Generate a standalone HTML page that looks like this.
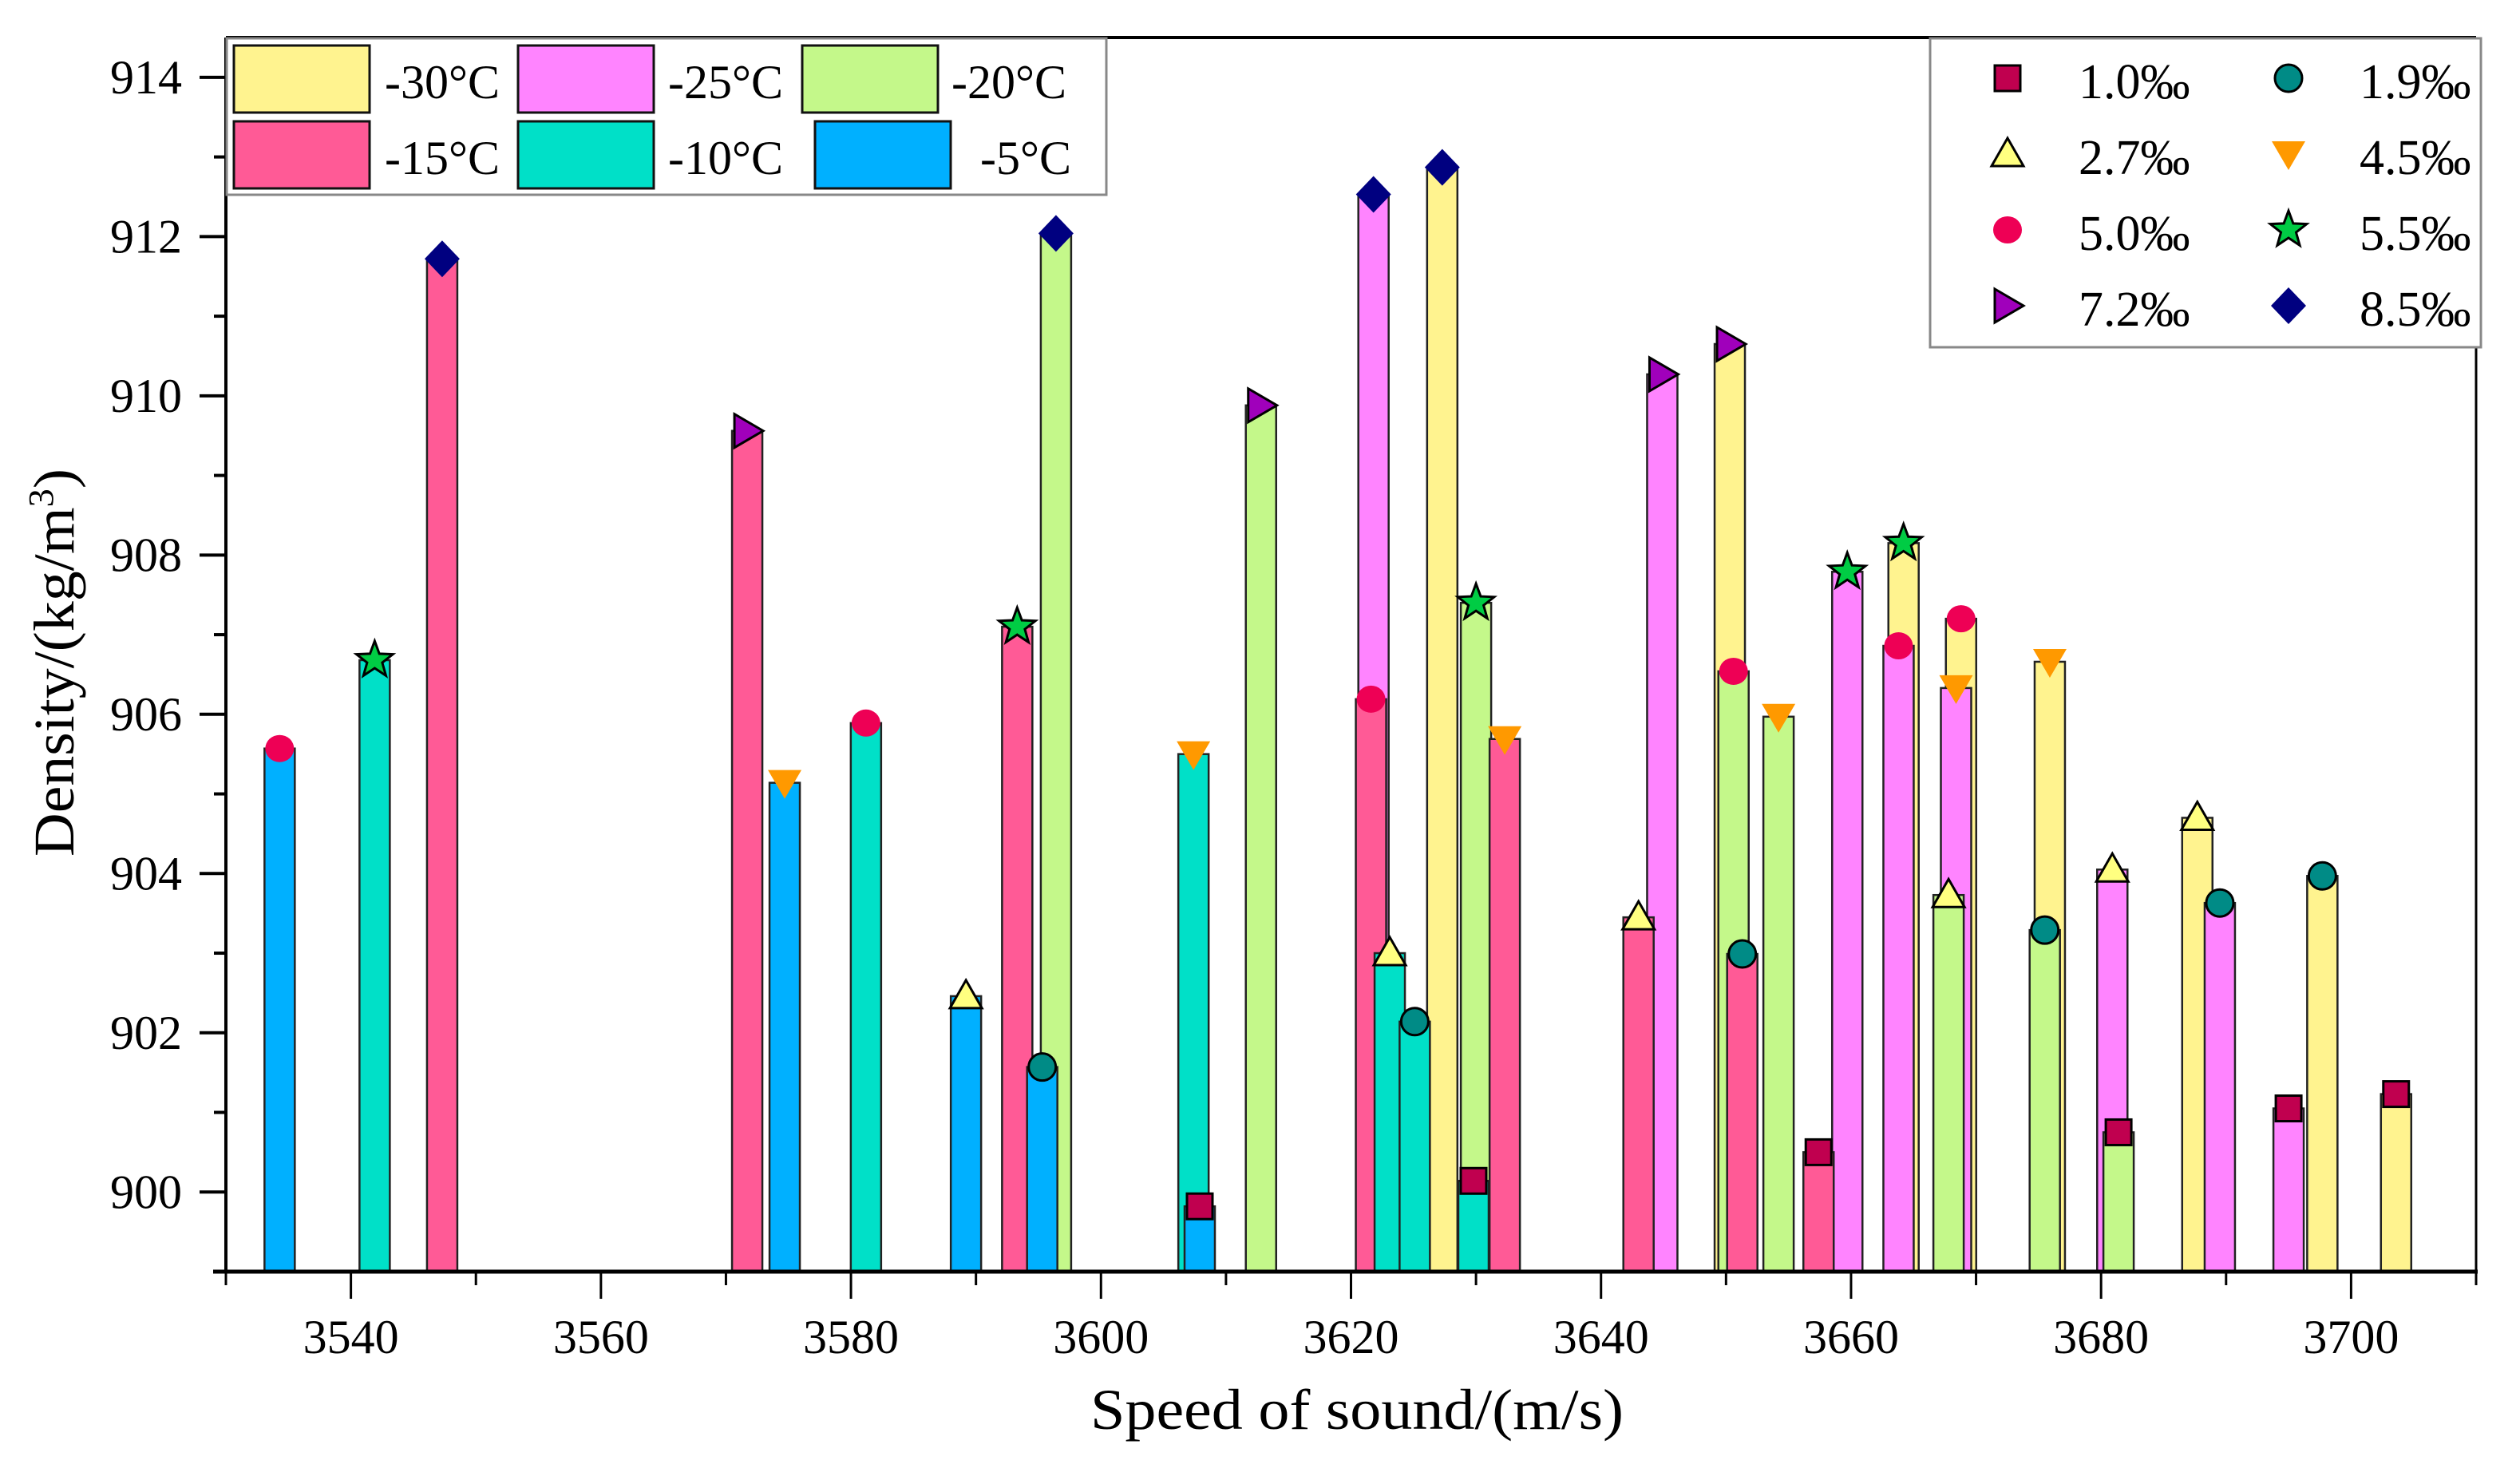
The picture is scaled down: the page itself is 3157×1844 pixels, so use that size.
<!DOCTYPE html>
<html><head><meta charset="utf-8"><title>Density vs speed of sound</title>
<style>
html,body{margin:0;padding:0;background:#fff;}
svg{display:block;font-family:"Liberation Serif",serif;}
</style></head>
<body>
<svg id="chart" width="3157" height="1844" viewBox="0 0 3157 1844" xmlns="http://www.w3.org/2000/svg">
  <rect x="0" y="0" width="3157" height="1844" fill="#fff"/>
  <g id="bars"></g>
  <g id="markers"></g>
  <g id="axes"></g>
  <text x="1700" y="1790" font-size="72" text-anchor="middle" textLength="668" lengthAdjust="spacingAndGlyphs">Speed of sound/(m/s)</text>
  <text transform="translate(92,830) rotate(-90)" font-size="72" text-anchor="middle" textLength="486" lengthAdjust="spacingAndGlyphs">Density/(kg/m<tspan font-size="44" dy="-26">3</tspan><tspan dy="26">)</tspan></text>
  <g id="legend-temp"></g>
  <g id="legend-conc"></g>
</svg>
<script>
// ---- data ----
const speeds = [3534.3,3541.9,3547.3,3571.7,3574.7,3581.2,3589.2,3593.3,3595.3,3596.4,3607.4,3607.9,3612.8,3621.8,3621.6,3623.1,3625.1,3627.3,3629.8,3630.0,3632.3,3643.0,3644.9,3650.3,3650.6,3651.3,3654.2,3657.4,3659.7,3663.8,3664.2,3667.8,3668.4,3668.8,3675.5,3675.9,3680.9,3681.4,3687.7,3689.5,3695.0,3697.7,3703.6];
const densities = [905.57,906.68,911.72,909.56,905.14,905.89,902.46,907.10,901.57,912.04,905.50,899.82,909.88,912.53,906.19,903.00,902.14,912.87,900.14,907.40,905.69,903.45,910.27,910.65,906.54,902.99,905.97,900.50,907.79,906.86,908.15,903.73,906.33,907.20,903.29,906.66,904.05,900.75,904.70,903.63,901.05,903.97,901.23];
const temps = [-5,-10,-15,-15,-5,-10,-5,-15,-5,-20,-10,-5,-20,-25,-15,-10,-10,-30,-10,-20,-15,-15,-25,-30,-20,-15,-20,-15,-25,-25,-30,-20,-25,-30,-20,-30,-25,-20,-30,-25,-25,-30,-30];
const concs = ["5.0","5.5","8.5","7.2","4.5","5.0","2.7","5.5","1.9","8.5","4.5","1.0","7.2","8.5","5.0","2.7","1.9","8.5","1.0","5.5","4.5","2.7","7.2","7.2","5.0","1.9","4.5","1.0","5.5","5.0","5.5","2.7","4.5","5.0","1.9","4.5","2.7","1.0","2.7","1.9","1.0","1.9","1.0"];
const xTicks = [3540,3560,3580,3600,3620,3640,3660,3680,3700];
const yTicks = [900,902,904,906,908,910,912,914];
const tempLabels = ["-30°C","-25°C","-20°C","-15°C","-10°C","-5°C"];
const tempKeys = [-30,-25,-20,-15,-10,-5];
const concLabels = ["1.0","1.9","2.7","4.5","5.0","5.5","7.2","8.5"];

// ---- styles ----
const tempColor = {"-30":"#FFF38F","-25":"#FF84FF","-20":"#C4F88A","-15":"#FF5A96","-10":"#00E0C8","-5":"#00B0FF"};
const XMIN=3530,XMAX=3710,YMIN=899,YMAX=914.5;
const PL=283,PR=3102,PB=1593,PT=47;
const xs = v => PL+(v-XMIN)*(PR-PL)/(XMAX-XMIN);
const ys = v => PB-(v-YMIN)*(PB-PT)/(YMAX-YMIN);
const NS="http://www.w3.org/2000/svg";
function mk(tag,attrs,parent){const e=document.createElementNS(NS,tag);for(const k in attrs)e.setAttribute(k,attrs[k]);parent.appendChild(e);return e;}

function marker(kind,cx,cy,parent){
  let e;
  if(kind==="1.0"){e=mk('rect',{x:cx-16,y:cy-16,width:32,height:32,fill:'#C0004F',stroke:'#000','stroke-width':3},parent);}
  else if(kind==="1.9"){e=mk('circle',{cx:cx,cy:cy,r:17,fill:'#008B86',stroke:'#000','stroke-width':3},parent);}
  else if(kind==="2.7"){e=mk('polygon',{points:`${cx},${cy-20} ${cx+20},${cy+15} ${cx-20},${cy+15}`,fill:'#FFFF80',stroke:'#000','stroke-width':3},parent);}
  else if(kind==="4.5"){e=mk('polygon',{points:`${cx-21},${cy-16} ${cx+21},${cy-16} ${cx},${cy+20}`,fill:'#FF9900'},parent);}
  else if(kind==="5.0"){e=mk('ellipse',{cx:cx,cy:cy,rx:18,ry:17,fill:'#EE0055'},parent);}
  else if(kind==="5.5"){let p=[];for(let i=0;i<10;i++){const r=i%2?10:24;const a=-Math.PI/2+i*Math.PI/5;p.push((cx+r*Math.cos(a)).toFixed(1)+','+(cy+r*Math.sin(a)).toFixed(1));}
    e=mk('polygon',{points:p.join(' '),fill:'#00CC44',stroke:'#000','stroke-width':3},parent);}
  else if(kind==="7.2"){e=mk('polygon',{points:`${cx-16},${cy-21} ${cx+20},${cy} ${cx-16},${cy+21}`,fill:'#A000BB',stroke:'#000','stroke-width':3},parent);}
  else {e=mk('polygon',{points:`${cx},${cy-23} ${cx+22},${cy} ${cx},${cy+23} ${cx-22},${cy}`,fill:'#000080'},parent);}
  return e;
}

// ---- bars + markers (colder temperatures drawn first) ----
const gb=document.getElementById('bars'), gm=document.getElementById('markers');
const BW=38;
const order = speeds.map((s,i)=>i).sort((a,b)=>(temps[a]-temps[b])||(a-b));
order.forEach(i=>{
  const cx=xs(speeds[i]), top=ys(densities[i]);
  const r=mk('rect',{x:cx-BW/2,y:top,width:BW,height:PB-top,fill:tempColor[String(temps[i])],stroke:'#222','stroke-width':2.5},gb);
  
  
});
order.forEach(i=>{
  const m=marker(concs[i],xs(speeds[i]),ys(densities[i]),gm);
  
  
});

// ---- axes ----
const ga=document.getElementById('axes');
let l=mk('line',{x1:PL,y1:PT,x2:PR,y2:PT,stroke:'#000','stroke-width':4},ga);


l=mk('line',{x1:PR,y1:PT,x2:PR,y2:PB,stroke:'#000','stroke-width':3},ga);


l=mk('line',{x1:PL,y1:PT,x2:PL,y2:PB+2,stroke:'#000','stroke-width':4},ga);


l=mk('line',{x1:PL-16,y1:PB,x2:PR+2,y2:PB,stroke:'#000','stroke-width':5},ga);


for(let v=XMIN; v<=XMAX; v+=10){
  const major = xTicks.includes(v);
  const t=mk('line',{x1:xs(v),y1:PB,x2:xs(v),y2:PB+(major?34:17),stroke:'#000','stroke-width':3},ga);
  
  
}
xTicks.forEach(v=>{
  const t=mk('text',{x:xs(v),y:1695,'font-size':60,'text-anchor':'middle'},ga);
  t.textContent=v;
  
  
});
for(let v=900; v<=914; v+=1){
  const major = yTicks.includes(v);
  const t=mk('line',{x1:PL-(major?33:15),y1:ys(v),x2:PL,y2:ys(v),stroke:'#000','stroke-width':4},ga);
  
  
}
yTicks.forEach(v=>{
  const t=mk('text',{x:228,y:ys(v)+20,'font-size':60,'text-anchor':'end'},ga);
  t.textContent=v;
  
  
});

// ---- temperature legend ----
const lt=document.getElementById('legend-temp');
let box=mk('rect',{x:284,y:48,width:1102,height:196,fill:'#fff',stroke:'#888','stroke-width':3},lt);


const swX=[293,649,1005], lblX=[482,837,1192];
tempKeys.forEach((k,i)=>{
  const row=Math.floor(i/3), col=i%3;
  const sx = (i===5)?1021:swX[col];
  const sy = row?152:57;
  const s=mk('rect',{x:sx,y:sy,width:170,height:84,fill:tempColor[String(k)],stroke:'#111','stroke-width':3},lt);
  
  
  const t=mk('text',{x:(i===5)?1342:lblX[col],y:row?218:123,'font-size':60,'text-anchor':(i===5)?'end':'start'},lt);
  t.textContent=tempLabels[i];
  
  
});

// ---- concentration legend ----
const lc=document.getElementById('legend-conc');
box=mk('rect',{x:2418,y:48,width:690,height:387,fill:'#fff',stroke:'#888','stroke-width':3},lc);


concLabels.forEach((c,i)=>{
  const row=Math.floor(i/2), col=i%2;
  const cy=98+row*95;
  const m=marker(c, col?2867:2515, cy, lc);
  
  
  const t=mk('text',{x:col?2956:2604,y:cy+25,'font-size':62},lc);
  t.textContent=c+'‰';
  
  
});
</script>
</body></html>
